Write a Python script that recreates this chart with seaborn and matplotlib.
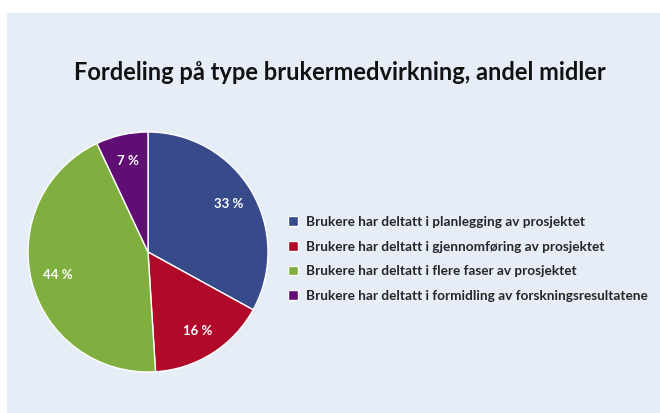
import matplotlib
matplotlib.use('Agg')
import matplotlib.pyplot as plt
import seaborn as sns
from matplotlib.patches import Rectangle

# data
labels = ['Brukere har deltatt i planlegging av prosjektet',
          'Brukere har deltatt i gjennomføring av prosjektet',
          'Brukere har deltatt i flere faser av prosjektet',
          'Brukere har deltatt i formidling av forskningsresultatene']
shares = [33, 16, 44, 7]
colors = ['#374A8A', '#B0092A', '#7FB03F', '#600E74']

sns.set_style('white')
plt.rcParams['font.family'] = ['Lato', 'DejaVu Sans']

fig = plt.figure(figsize=(6.6, 4.13), dpi=100)
fig.patch.set_facecolor('white')
# chart area background
fig.patches.append(Rectangle((7/660, 0), 1 - 7/660, 1 - 13/413, transform=fig.transFigure,
                             facecolor='#E6EDF7', edgecolor='none', zorder=-5))

fig.text(0.515, 1 - 72/413, 'Fordeling på type brukermedvirkning, andel midler',
         ha='center', va='center', fontsize=17, fontweight='bold', color='#111111')

ax = fig.add_axes([28/660, 41/413, 240/660, 240/413])
ax.set_zorder(2)
ax.patch.set_visible(False)
wedges, texts, autotexts = ax.pie(shares, colors=colors, startangle=90, counterclock=False,
                                  autopct=lambda p: f'{p:.0f} %', pctdistance=0.78,
                                  wedgeprops=dict(edgecolor='white', linewidth=1))
for t in autotexts:
    t.set_color('white')
    t.set_fontweight('bold')
    t.set_fontsize(9.5)
ax.set_xlim(-1.0, 1.0)
ax.set_ylim(-1.0, 1.0)
ax.set_aspect('equal')
ax.axis('off')

leg = fig.legend(wedges, labels, loc='center left', bbox_to_anchor=(288/660, 1 - 259/413),
                 frameon=False, prop={'weight': 'bold', 'size': 9.8},
                 handlelength=0.75, handleheight=0.75, handletextpad=0.55, labelspacing=0.92,
                 borderaxespad=0, borderpad=0)
leg.set_zorder(3)

fig.savefig('out.png', dpi=100)
